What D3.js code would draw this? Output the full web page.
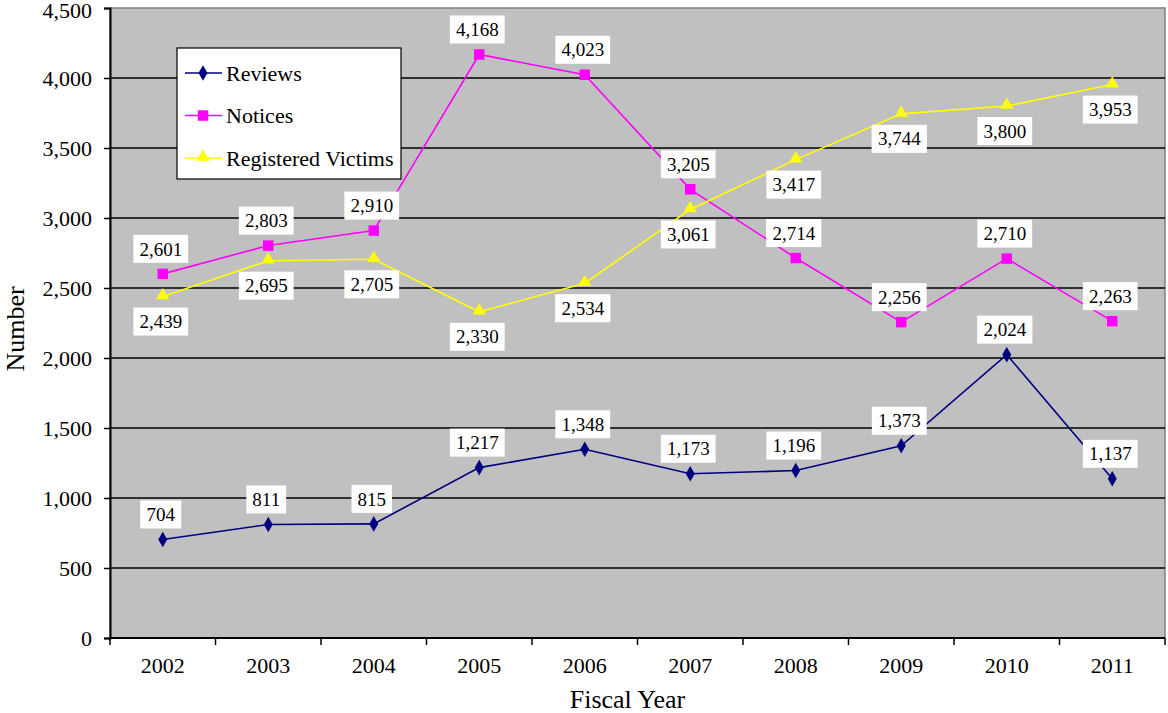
<!DOCTYPE html>
<html>
<head>
<meta charset="utf-8">
<script src="https://cdn.jsdelivr.net/npm/d3@7"></script>
<style>
  html, body { margin: 0; padding: 0; background: #fff; }
  svg { display: block; font-family: "Liberation Serif", "Times New Roman", serif; }
</style>
</head>
<body>
<svg id="chart" width="1168" height="713"></svg>
<script>
// Fiscal years and yearly counts
const years = ["2002", "2003", "2004", "2005", "2006", "2007", "2008", "2009", "2010", "2011"];
const reviews = [704, 811, 815, 1217, 1348, 1173, 1196, 1373, 2024, 1137];
const notices = [2601, 2803, 2910, 4168, 4023, 3205, 2714, 2256, 2710, 2263];
const victims = [2439, 2695, 2705, 2330, 2534, 3061, 3417, 3744, 3800, 3953];
const yTicks = [0, 500, 1000, 1500, 2000, 2500, 3000, 3500, 4000, 4500];

const series = [
  { name: "Reviews", values: reviews, color: "#000080", symbol: d3.symbolDiamond, labelPos: "above" },
  { name: "Notices", values: notices, color: "#FF00FF", symbol: d3.symbolSquare, labelPos: "above" },
  { name: "Registered Victims", values: victims, color: "#FFFF00", symbol: d3.symbolTriangle, labelPos: "below" }
];

const FONT = "Liberation Serif, Times New Roman, serif";
const svg = d3.select("#chart");
const m = { left: 110, right: 1165, top: 8, bottom: 638 };

const x = d3.scaleBand().domain(years).range([m.left, m.right]);
const y = d3.scaleLinear().domain([0, 4500]).range([m.bottom, m.top]);
const fmt = d3.format(",");

// plot background
svg.append("rect")
  .attr("x", m.left).attr("y", m.top)
  .attr("width", m.right - m.left).attr("height", m.bottom - m.top)
  .attr("fill", "#C0C0C0")
  .attr("stroke", "#808080").attr("stroke-width", 1.5);

// horizontal gridlines
svg.append("g")
  .selectAll("line")
  .data(yTicks.filter(t => t > 0 && t < 4500))
  .join("line")
  .attr("x1", m.left).attr("x2", m.right)
  .attr("y1", d => y(d)).attr("y2", d => y(d))
  .attr("stroke", "#000").attr("stroke-width", 1.3);

// y axis
const yAxis = svg.append("g")
  .attr("transform", `translate(${m.left},0)`)
  .call(d3.axisLeft(y).tickValues(yTicks).tickFormat(fmt).tickSize(6).tickPadding(12));
yAxis.select(".domain").attr("stroke", "#000").attr("stroke-width", 2);
yAxis.selectAll(".tick line").attr("stroke", "#000").attr("stroke-width", 1.5);
yAxis.selectAll(".tick text")
  .attr("font-family", FONT)
  .attr("font-size", 22).attr("fill", "#000")
  // keep the topmost label inside the page
  .attr("dy", d => d === 4500 ? "0.45em" : "0.32em");

// x axis with ticks at band boundaries
const xAxisG = svg.append("g").attr("transform", `translate(0,${m.bottom})`);
xAxisG.append("line")
  .attr("x1", m.left).attr("x2", m.right)
  .attr("y1", 0).attr("y2", 0)
  .attr("stroke", "#000").attr("stroke-width", 2);
const bounds = years.map(d => x(d)).concat([x(years[years.length - 1]) + x.bandwidth()]);
xAxisG.selectAll("line.tk")
  .data(bounds)
  .join("line")
  .attr("class", "tk")
  .attr("x1", d => d).attr("x2", d => d)
  .attr("y1", 0).attr("y2", 7)
  .attr("stroke", "#000").attr("stroke-width", 1.5);
xAxisG.selectAll("text")
  .data(years)
  .join("text")
  .attr("x", d => x(d) + x.bandwidth() / 2)
  .attr("y", 35)
  .attr("text-anchor", "middle")
  .attr("font-size", 22)
  .text(d => d);

// axis titles
svg.append("text")
  .attr("transform", `translate(24,${(m.top + m.bottom) / 2 + 6}) rotate(-90)`)
  .attr("text-anchor", "middle")
  .attr("font-size", 26)
  .text("Number");
svg.append("text")
  .attr("x", (m.left + m.right) / 2 - 10)
  .attr("y", 708)
  .attr("text-anchor", "middle")
  .attr("font-size", 26)
  .text("Fiscal Year");

const cx = d => x(d) + x.bandwidth() / 2;
const line = d3.line().x(d => cx(d.year)).y(d => y(d.value));
const symSize = s => s.symbol === d3.symbolSquare ? 110 : (s.symbol === d3.symbolDiamond ? 70 : 75);

// lines and markers
series.forEach(s => {
  s.pts = years.map((yr, i) => ({ year: yr, value: s.values[i] }));
  svg.append("path")
    .datum(s.pts)
    .attr("d", line)
    .attr("fill", "none")
    .attr("stroke", s.color)
    .attr("stroke-width", 1.6);
});

series.forEach(s => {
  svg.append("g").selectAll("path")
    .data(s.pts)
    .join("path")
    .attr("transform", d => `translate(${cx(d.year)},${y(d.value) + (s.symbol === d3.symbolTriangle ? -1 : 0)})`)
    .attr("d", d3.symbol(s.symbol, symSize(s)))
    .attr("fill", s.color);
});

// value labels in white boxes
series.forEach(s => {
  const g = svg.append("g").selectAll("g")
    .data(s.pts)
    .join("g")
    .attr("transform", d => `translate(${cx(d.year) - 2},${y(d.value) + (s.labelPos === "above" ? -25 : 25)})`);
  g.append("rect").attr("fill", "#fff");
  g.append("text")
    .attr("text-anchor", "middle")
    .attr("dy", "0.35em")
    .attr("font-size", 19)
    .text(d => fmt(d.value));
  g.each(function () {
    const t = d3.select(this).select("text").node().getBBox();
    d3.select(this).select("rect")
      .attr("x", -t.width / 2 - 6).attr("y", -14)
      .attr("width", t.width + 12).attr("height", 28);
  });
});

// legend
const lg = svg.append("g").attr("transform", "translate(177,48)");
lg.append("rect")
  .attr("width", 224).attr("height", 131)
  .attr("fill", "#fff").attr("stroke", "#000").attr("stroke-width", 1.2);
series.forEach((s, i) => {
  const row = lg.append("g").attr("transform", `translate(0,${25 + i * 42.5})`);
  row.append("line")
    .attr("x1", 8).attr("x2", 45)
    .attr("stroke", s.color).attr("stroke-width", 1.6);
  row.append("path")
    .attr("transform", `translate(26,${s.symbol === d3.symbolTriangle ? -1 : 0})`)
    .attr("d", d3.symbol(s.symbol, symSize(s)))
    .attr("fill", s.color);
  row.append("text")
    .attr("x", 49).attr("dy", "0.35em")
    .attr("font-size", 22)
    .text(s.name);
});
</script>
</body>
</html>
